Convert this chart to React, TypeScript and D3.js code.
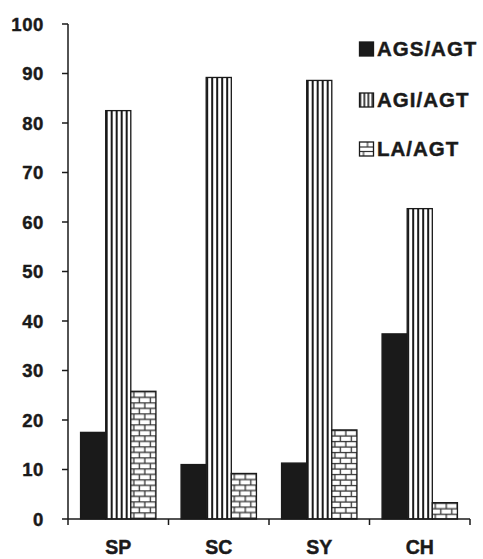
import React from "react";
import * as d3 from "d3";

const categories = ["SP", "SC", "SY", "CH"];
const seriesNames = ["AGS/AGT", "AGI/AGT", "LA/AGT"];
const agsValues = [17.5, 11.0, 11.3, 37.4];
const agiValues = [82.5, 89.2, 88.6, 62.7];
const laValues = [25.8, 9.2, 18.0, 3.3];
const yTicks = [0, 10, 20, 30, 40, 50, 60, 70, 80, 90, 100];

const W = 483;
const H = 559;
const FONT = "'Liberation Sans', Arial, Helvetica, sans-serif";
const INK = "#1a1a1a";

export default function App() {
  const seriesValues = [agsValues, agiValues, laValues];
  const x = d3.scaleBand<string>().domain(categories).range([68, 470]).paddingInner(0).paddingOuter(0);
  const inner = d3.scaleBand<string>().domain(seriesNames).range([0, x.bandwidth()]).paddingInner(0).paddingOuter(0.5);
  const y = d3.scaleLinear().domain([0, 100]).range([519, 24]);
  const fills = ["solid", "stripe", "brick"];

  const bars: any[] = [];
  categories.forEach((c, ci) => {
    seriesNames.forEach((s, si) => {
      const v = seriesValues[si][ci];
      bars.push({ key: c + s, x: (x(c) as number) + (inner(s) as number), y: y(v), w: inner.bandwidth(), h: y(0) - y(v), kind: fills[si], id: `p${ci}${si}` });
    });
  });

  const legendRows = [
    { name: seriesNames[0], kind: "solid", y: 42 },
    { name: seriesNames[1], kind: "stripeL", y: 93 },
    { name: seriesNames[2], kind: "brickL", y: 142 },
  ];

  const patternFor = (b: any) => {
    if (b.kind === "stripe") {
      return (
        <pattern key={b.id} id={b.id} patternUnits="userSpaceOnUse" x={b.x} y={0} width={5} height={10}>
          <rect x={0} y={0} width={5} height={10} fill="#fff" />
          <rect x={0} y={0} width={2} height={10} fill={INK} />
        </pattern>
      );
    }
    if (b.kind === "brick") {
      return (
        <pattern key={b.id} id={b.id} patternUnits="userSpaceOnUse" x={b.x} y={b.y} width={11} height={11}>
          <rect x={0} y={0} width={11} height={11} fill="#fff" />
          <line x1={0} x2={11} y1={0.6} y2={0.6} stroke="#333" strokeWidth={1.3} />
          <line x1={0} x2={11} y1={6.1} y2={6.1} stroke="#333" strokeWidth={1.3} />
          <line x1={3} x2={3} y1={0} y2={6.1} stroke="#333" strokeWidth={1.3} />
          <line x1={8.5} x2={8.5} y1={6.1} y2={11} stroke="#333" strokeWidth={1.3} />
        </pattern>
      );
    }
    return null;
  };

  const textStyle = { fontFamily: FONT, fontWeight: 700 as any, fill: INK, stroke: INK, strokeWidth: 0.45 };

  return (
    <svg width={W} height={H} style={{ position: "absolute", left: 0, top: 0, background: "#fff" }}>
      <defs>
        {bars.map(patternFor)}
        <pattern id="legStripe" patternUnits="userSpaceOnUse" x={359.5} y={0} width={4} height={10}>
          <rect x={0} y={0} width={4} height={10} fill="#fff" />
          <rect x={0} y={0} width={1.6} height={10} fill={INK} />
        </pattern>
        <pattern id="legBrick" patternUnits="userSpaceOnUse" x={359.5} y={142} width={14} height={14}>
          <rect x={0} y={0} width={14} height={14} fill="#fff" />
          <line x1={0} x2={14} y1={5} y2={5} stroke="#333" strokeWidth={1.2} />
          <line x1={0} x2={14} y1={9.5} y2={9.5} stroke="#333" strokeWidth={1.2} />
          <line x1={8} x2={8} y1={0} y2={5} stroke="#333" strokeWidth={1.2} />
          <line x1={4} x2={4} y1={9.5} y2={14} stroke="#333" strokeWidth={1.2} />
        </pattern>
      </defs>

      {bars.map((b) => (
        <rect
          key={b.key}
          x={b.x}
          y={b.y}
          width={b.w}
          height={b.h}
          fill={b.kind === "solid" ? INK : `url(#${b.id})`}
          stroke={INK}
          strokeWidth={1.3}
        />
      ))}

      {/* y axis */}
      <line x1={68} x2={68} y1={y(100)} y2={y(0)} stroke={INK} strokeWidth={1.5} />
      {yTicks.map((t) => (
        <g key={t}>
          <line x1={62} x2={68} y1={y(t)} y2={y(t)} stroke={INK} strokeWidth={1.5} />
          <text x={44} y={y(t)} dy="0.36em" textAnchor="end" fontSize={18.5} letterSpacing={0.6} style={textStyle}>
            {t}
          </text>
        </g>
      ))}

      {/* x axis */}
      <line x1={68} x2={470} y1={y(0)} y2={y(0)} stroke={INK} strokeWidth={1.5} />
      {[...categories.map((c) => x(c) as number), 470].map((tx, i) => (
        <line key={i} x1={tx} x2={tx} y1={y(0)} y2={y(0) + 6} stroke={INK} strokeWidth={1.5} />
      ))}
      {categories.map((c) => (
        <text key={c} x={(x(c) as number) + x.bandwidth() / 2} y={554} textAnchor="middle" fontSize={19.5} style={textStyle}>
          {c}
        </text>
      ))}

      {/* legend */}
      {legendRows.map((r) => (
        <g key={r.name}>
          <rect
            x={359.5}
            y={r.y}
            width={14}
            height={14}
            fill={r.kind === "solid" ? INK : r.kind === "stripeL" ? "url(#legStripe)" : "url(#legBrick)"}
            stroke={INK}
            strokeWidth={1.3}
          />
          <text x={377} y={r.y + 14} fontSize={20.5} letterSpacing={1} style={textStyle}>
            {r.name}
          </text>
        </g>
      ))}
    </svg>
  );
}
